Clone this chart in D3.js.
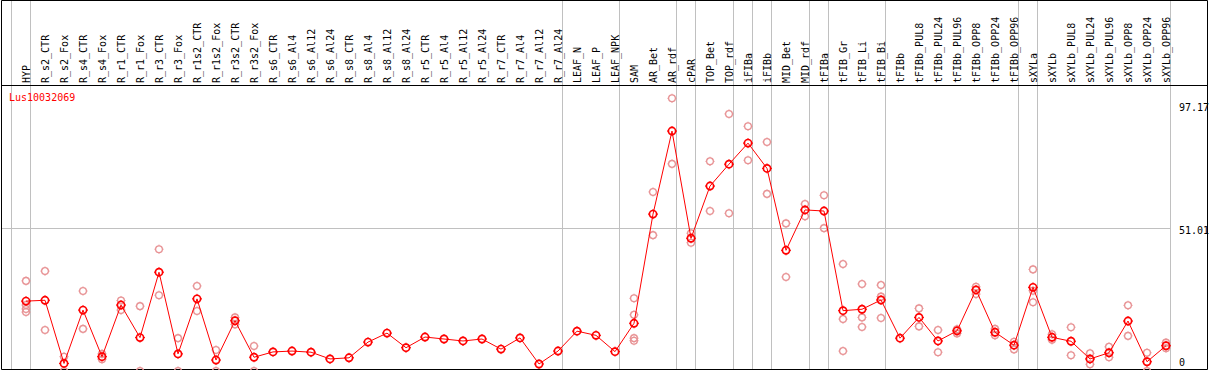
<!DOCTYPE html>
<html>
<head>
<meta charset="utf-8">
<script src="https://cdn.jsdelivr.net/npm/d3@7"></script>
<style>
  body { margin: 0; background: #fff; }
  text { font-family: "DejaVu Sans Mono", monospace; font-size: 10px; }
</style>
</head>
<body>
<svg width="1209" height="370"></svg>
<script>
// expression profile of one gene across flax tissues / treatments
var geneName = "Lus10032069";

var samples = ["HYP","R_s2_CTR","R_s2_Fox","R_s4_CTR","R_s4_Fox","R_r1_CTR","R_r1_Fox",
  "R_r3_CTR","R_r3_Fox","R_r1s2_CTR","R_r1s2_Fox","R_r3s2_CTR","R_r3s2_Fox",
  "R_s6_CTR","R_s6_Al4","R_s6_Al12","R_s6_Al24","R_s8_CTR","R_s8_Al4","R_s8_Al12","R_s8_Al24",
  "R_r5_CTR","R_r5_Al4","R_r5_Al12","R_r5_Al24","R_r7_CTR","R_r7_Al4","R_r7_Al12","R_r7_Al24",
  "LEAF_N","LEAF_P","LEAF_NPK","SAM","AR_Bet","AR_rdf","cPAR","TOP_Bet","TOP_rdf",
  "iFIBa","iFIBb","MID_Bet","MID_rdf","tFIBa","tFIB_Gr","tFIB_Li","tFIB_Bi",
  "tFIBb","tFIBb_PUL8","tFIBb_PUL24","tFIBb_PUL96","tFIBb_OPP8","tFIBb_OPP24","tFIBb_OPP96",
  "sXYLa","sXYLb","sXYLb_PUL8","sXYLb_PUL24","sXYLb_PUL96","sXYLb_OPP8","sXYLb_OPP24","sXYLb_OPP96"];

var means = [24.9,25.2,2.7,21.7,5.1,23.5,11.9,
  35.2,6.1,25.7,3.9,17.9,4.9,
  6.8,7.1,6.7,4.3,4.7,10.3,13.5,8.3,
  12.1,11.4,10.7,11.4,7.8,11.8,2.5,7.1,
  14.2,12.7,6.9,17.0,55.9,85.5,47.3,65.9,73.7,
  81.2,72.2,43.0,57.4,57.0,21.5,22.0,25.3,
  11.7,19.1,10.7,14.3,28.9,13.8,9.2,
  29.8,12.0,10.6,4.3,6.5,17.8,3.3,9.0];

var replicates = [[32.1,23.5,22.1,21.0],[35.6,14.6],[5.1,0],[28.5,15.0],[6.1,4.2],[25.1,21.7],[23.1,0],
  [43.4,27.0],[11.7,0],[30.3,21.4],[7.5,0],[19.1,16.6],[8.9,0],
  [],[],[],[],[],[],[],[],
  [],[],[],[],[],[],[],[],
  [],[],[],[25.9,20.0,11.7,10.8],[63.8,48.4],[97.17,73.8],[49.1,45.7],[74.7,57.0],[91.6,56.2],
  [87.2,75.1],[81.6,63.1],[52.6,33.5],[59.5,55.1],[62.6,50.9],[38.1,18.5,7.1],[31.0,19.1,15.7],[30.6,26.5,18.9],
  [],[22.3,15.9],[14.6,6.7],[14.9,13.4],[30.0,27.4],[15.0,12.7],[10.4,7.7],
  [36.2,28.6,24.5],[13.1,11.1],[15.6,5.6],[6.3,2.4],[8.6,4.9],[23.4,12.5],[6.5,0],[10.1,8.1]];

// index of the last sample in each group (-1 = left edge)
var groupEnds = [-1,0,28,31,34,35,37,38,39,41,42,45,52,53,60];

var yTicks = [0, 51.01, 97.17];

var svg = d3.select("svg"),
    width = +svg.attr("width"),
    height = +svg.attr("height");

var x = d3.scalePoint()
    .domain(samples)
    .range([26, 1166]);

var y = d3.scaleLinear()
    .domain([0, 97.17])
    .range([371, 98.3]);

var plotTop = 85.5, plotBottom = 369.5, plotRight = 1170.5;

svg.append("rect")
    .attr("width", width)
    .attr("height", height)
    .attr("fill", "#fff");

// group separators
var step = x.step();
svg.append("g")
  .selectAll("line")
  .data(groupEnds)
  .enter().append("line")
    .attr("x1", function(d) { return Math.floor(x(samples[0]) + step * d + 4.5) + 0.5; })
    .attr("x2", function(d) { return Math.floor(x(samples[0]) + step * d + 4.5) + 0.5; })
    .attr("y1", 0)
    .attr("y2", height)
    .attr("stroke", "#c0c0c0")
    .attr("stroke-width", 1);

// horizontal grid at the middle tick
svg.append("line")
    .attr("x1", 1)
    .attr("x2", plotRight)
    .attr("y1", Math.round(y(yTicks[1])) + 0.5)
    .attr("y2", Math.round(y(yTicks[1])) + 0.5)
    .attr("stroke", "#c0c0c0");

// frame
svg.append("path")
    .attr("d", "M1.5,0.5H1207.5V" + plotBottom + "H1.5Z M1.5," + plotTop + "H1207.5")
    .attr("fill", "none")
    .attr("stroke", "#000")
    .attr("stroke-width", 1);

// sample names in the header
svg.append("g")
  .selectAll("text")
  .data(samples)
  .enter().append("text")
    .attr("transform", function(d) { return "translate(" + (x(d) + 4) + ",83) rotate(-90)"; })
    .attr("fill", "#000")
    .text(function(d) { return d; });

// y labels on the right
svg.append("g")
  .selectAll("text")
  .data(yTicks)
  .enter().append("text")
    .attr("x", 1179)
    .attr("y", function(d, i) {
      if (i == 0) return y(d) - 5.5;
      if (i == yTicks.length - 1) return y(d) + 12.7;
      return y(d) + 6.5;
    })
    .attr("fill", "#000")
    .text(function(d) { return d; });

svg.append("text")
    .attr("x", 9)
    .attr("y", 100.5)
    .attr("fill", "#ff0000")
    .text(geneName);

function markerPath(r, t) {
  return "M0," + (-r - t) + "V" + (-r) + "M0," + r + "V" + (r + t) +
         "M" + (-r - t) + ",0H" + (-r) + "M" + r + ",0H" + (r + t);
}

// replicate points
var repData = [];
samples.forEach(function(s, i) {
  replicates[i].forEach(function(v) { repData.push({ s: s, v: v }); });
});

var rep = svg.append("g")
  .selectAll("g")
  .data(repData)
  .enter().append("g")
    .attr("transform", function(d) { return "translate(" + x(d.s) + "," + y(d.v) + ")"; });

rep.append("circle")
    .attr("r", 3.4)
    .attr("fill", "none")
    .attr("stroke", "#e89496")
    .attr("stroke-width", 1.3);

rep.append("path")
    .attr("d", markerPath(3.4, 1.2))
    .attr("stroke", "#e89496")
    .attr("stroke-width", 1);

// mean line
var line = d3.line()
    .x(function(d, i) { return x(samples[i]); })
    .y(function(d) { return y(d); });

svg.append("path")
    .datum(means)
    .attr("fill", "none")
    .attr("stroke", "#ff0000")
    .attr("stroke-width", 1)
    .attr("d", line);

var mk = svg.append("g")
  .selectAll("g")
  .data(means)
  .enter().append("g")
    .attr("transform", function(d, i) { return "translate(" + x(samples[i]) + "," + y(d) + ")"; });

mk.append("circle")
    .attr("r", 3.6)
    .attr("fill", "none")
    .attr("stroke", "#ff0000")
    .attr("stroke-width", 1.7);

mk.append("path")
    .attr("d", markerPath(3.6, 1.4))
    .attr("stroke", "#ff0000")
    .attr("stroke-width", 1);
</script>
</body>
</html>
